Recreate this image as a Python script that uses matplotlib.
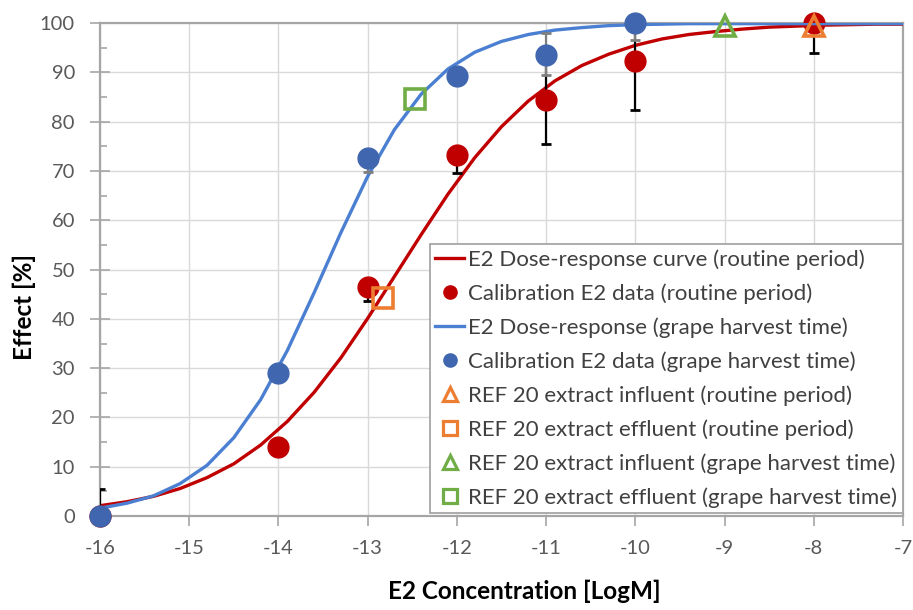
import matplotlib.pyplot as plt
from matplotlib.lines import Line2D
from matplotlib.ticker import MultipleLocator

plt.rcParams['font.family'] = ['Lato', 'DejaVu Sans']
plt.rcParams['axes.unicode_minus'] = False

# fitted dose-response curves, every 0.3 log units
curve_x = [-16.0, -15.7, -15.4, -15.1, -14.8, -14.5, -14.2, -13.9, -13.6, -13.3, -13.0,
           -12.7, -12.4, -12.1, -11.8, -11.5, -11.2, -10.9, -10.6, -10.3, -10.0,
           -9.7, -9.4, -9.1, -8.8, -8.5, -8.2, -7.9, -7.6, -7.3, -7.0]
curve_routine = [2.1, 2.9, 4.0, 5.6, 7.8, 10.6, 14.4, 19.2, 25.1, 32.1, 40.1,
                 48.6, 57.1, 65.3, 72.7, 79.0, 84.2, 88.3, 91.4, 93.7, 95.5,
                 96.8, 97.7, 98.3, 98.8, 99.2, 99.4, 99.6, 99.7, 99.8, 99.8]
curve_harvest = [1.6, 2.6, 4.1, 6.6, 10.3, 15.9, 23.6, 33.6, 45.3, 57.5, 68.9,
                 78.4, 85.6, 90.7, 94.1, 96.3, 97.7, 98.6, 99.1, 99.5, 99.7,
                 99.8, 99.9, 99.9, 99.9, 99.9, 99.9, 99.9, 99.9, 99.9, 99.9]

# calibration data
cal_routine_x = [-16, -14, -13, -12, -11, -10, -8]
cal_routine_y = [0, 14.0, 46.5, 73.2, 84.5, 92.3, 100]
cal_routine_lo = [0, 0, 2.8, 3.6, 9.0, 10.0, 6.0]
cal_routine_hi = [5.5, 0, 0, 0, 9.0, 10.0, 6.0]

cal_harvest_x = [-16, -14, -13, -12, -11, -10]
cal_harvest_y = [0, 29.0, 72.7, 89.3, 93.6, 100]
cal_harvest_lo = [0, 0, 2.8, 0, 4.2, 3.5]
cal_harvest_hi = [0, 0, 0, 0, 4.4, 0]

# REF 20 extracts
inf_routine = (-8.0, 99.5)
eff_routine = (-12.83, 44.2)
inf_harvest = (-9.0, 99.5)
eff_harvest = (-12.47, 84.6)

red = '#C00000'
blue_line = '#4A7FD1'
blue_pt = '#3F66AE'
orange = '#ED7D31'
green = '#70AD47'

fig = plt.figure(figsize=(9.13, 6.10), dpi=100)
ax = fig.add_axes([0.1095, 0.154, 0.8795, 0.808])

ax.plot(curve_x, curve_routine, color=red, lw=2.4, zorder=3)
ax.errorbar(cal_routine_x, cal_routine_y, yerr=[cal_routine_lo, cal_routine_hi], fmt='none',
            ecolor='black', elinewidth=1.6, capsize=3.5, capthick=2, zorder=4)
ax.plot(cal_routine_x, cal_routine_y, 'o', color=red, ms=15, ls='none', zorder=5, clip_on=False)

ax.plot(curve_x, curve_harvest, color=blue_line, lw=2.4, zorder=6)
ax.errorbar(cal_harvest_x, cal_harvest_y, yerr=[cal_harvest_lo, cal_harvest_hi], fmt='none',
            ecolor='#7f7f7f', elinewidth=1.6, capsize=3.5, capthick=2, zorder=7)
ax.plot(cal_harvest_x, cal_harvest_y, 'o', color=blue_pt, ms=15, ls='none', zorder=8, clip_on=False)

ax.plot(*inf_routine, '^', mfc='none', mec=orange, mew=2.6, ms=15, zorder=9, clip_on=False)
ax.plot(*eff_routine, 's', mfc='none', mec=orange, mew=2.6, ms=14, zorder=9, clip_on=False)
ax.plot(*inf_harvest, '^', mfc='none', mec=green, mew=2.6, ms=15, zorder=9, clip_on=False)
ax.plot(*eff_harvest, 's', mfc='none', mec=green, mew=2.6, ms=14, zorder=9, clip_on=False)

ax.set_xlim(-16, -7)
ax.set_ylim(0, 100)
ax.xaxis.set_major_locator(MultipleLocator(1))
ax.yaxis.set_major_locator(MultipleLocator(10))
ax.yaxis.set_minor_locator(MultipleLocator(5))
ax.grid(True, color='#d9d9d9', lw=1, zorder=0)
ax.set_axisbelow(True)
for s in ax.spines.values():
    s.set_color('#a6a6a6')
    s.set_linewidth(1.6)
ax.tick_params(axis='x', direction='out', length=7, width=1.2, color='#a6a6a6',
               labelsize=14.5, labelcolor='#595959', pad=10)
ax.tick_params(axis='y', which='major', direction='inout', length=14, width=1.2, color='#a6a6a6',
               labelsize=14.5, labelcolor='#595959', pad=11)
ax.tick_params(axis='y', which='minor', direction='in', length=5, width=1.2, color='#a6a6a6')

ax.set_xlabel('E2 Concentration [LogM]', fontsize=17.5, fontweight='bold')
ax.set_ylabel('Effect [%]', fontsize=17.5, fontweight='bold')
ax.xaxis.set_label_coords(0.528, -0.13)
ax.yaxis.set_label_coords(-0.08, 0.424)

handles = [
    Line2D([], [], color=red, lw=2.4),
    Line2D([], [], marker='o', color=red, ms=9.5, ls='none'),
    Line2D([], [], color=blue_line, lw=2.4),
    Line2D([], [], marker='o', color=blue_pt, ms=9.5, ls='none'),
    Line2D([], [], marker='^', mfc='none', mec=orange, mew=2.3, ms=10.5, ls='none'),
    Line2D([], [], marker='s', mfc='none', mec=orange, mew=2.3, ms=9.5, ls='none'),
    Line2D([], [], marker='^', mfc='none', mec=green, mew=2.3, ms=10.5, ls='none'),
    Line2D([], [], marker='s', mfc='none', mec=green, mew=2.3, ms=9.5, ls='none'),
]
labels = [
    'E2 Dose-response curve (routine period)',
    'Calibration E2 data (routine period)',
    'E2 Dose-response (grape harvest time)',
    'Calibration E2 data (grape harvest time)',
    'REF 20 extract influent (routine period)',
    'REF 20 extract effluent (routine period)',
    'REF 20 extract influent (grape harvest time)',
    'REF 20 extract effluent (grape harvest time)',
]
leg = ax.legend(handles, labels, loc='lower right', bbox_to_anchor=(1.0, 0.006),
                fontsize=16, frameon=True, fancybox=False, edgecolor='#a6a6a6',
                framealpha=1, borderaxespad=0, handlelength=1.3, handletextpad=0.2,
                labelspacing=0.6, borderpad=0.25)
leg.get_frame().set_linewidth(1.3)
for t in leg.get_texts():
    t.set_color('#404040')
leg.set_zorder(20)

fig.savefig('out.png', dpi=100)
